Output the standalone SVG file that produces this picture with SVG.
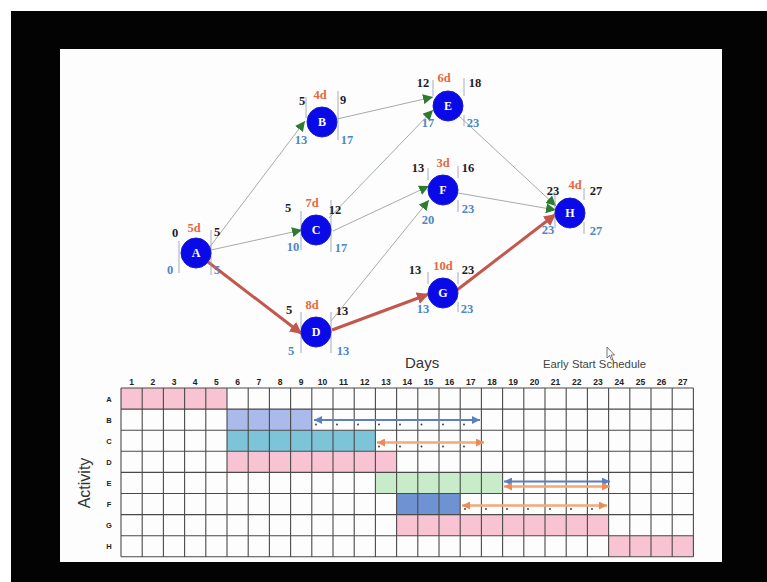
<svg xmlns="http://www.w3.org/2000/svg" width="767" height="582" viewBox="0 0 767 582">
<defs>
<style>
.num{font-family:"Liberation Serif","DejaVu Serif",serif;font-weight:bold;font-size:12.5px;text-anchor:middle}
.es{fill:#1c1c2c}
.du{fill:#e8673e}
.ls{fill:#4d86c6}
.nodec{fill:#0a0ae8;stroke:#1a1ad0;stroke-width:1}
.nl{font-family:"Liberation Serif","DejaVu Serif",serif;font-weight:bold;font-size:12px;fill:#ffffff;text-anchor:middle}
.tick{stroke:#8a9ab0;stroke-width:0.8}
.thin{fill:none;stroke:#98a498;stroke-width:0.9;marker-end:url(#ga)}
.crit{fill:none;stroke:#c4574c;stroke-width:3;marker-end:url(#ra)}
.hdr{font-family:"Liberation Sans","DejaVu Sans",sans-serif;font-weight:bold;font-size:8.5px;fill:#222;text-anchor:middle}
.rl{font-family:"Liberation Sans","DejaVu Sans",sans-serif;font-weight:bold;font-size:7.5px;fill:#222;text-anchor:middle}
.pink{fill:#f8c3d3}
.grid{fill:none;stroke:#4a4a4a;stroke-width:1.1}
.barB{stroke:#5b80c2;stroke-width:2.2;fill:none;marker-start:url(#bs);marker-end:url(#be)}
.barO{stroke:#f2a878;stroke-width:2.4;fill:none;marker-start:url(#os);marker-end:url(#oe)}
.dot{fill:#333}
</style>
<marker id="ga" markerUnits="userSpaceOnUse" markerWidth="10" markerHeight="10" viewBox="0 0 10 10" refX="10" refY="5" orient="auto"><path d="M0,0 L10,5 L0,10 Z" fill="#2e7a30"/></marker>
<marker id="ra" markerUnits="userSpaceOnUse" markerWidth="12" markerHeight="12" viewBox="0 0 10 10" refX="10" refY="5" orient="auto"><path d="M0,0 L10,5 L0,10 Z" fill="#c4574c"/></marker>
<marker id="be" markerUnits="userSpaceOnUse" markerWidth="8" markerHeight="8" viewBox="0 0 10 10" refX="10" refY="5" orient="auto"><path d="M0,0 L10,5 L0,10 Z" fill="#5b80c2"/></marker>
<marker id="bs" markerUnits="userSpaceOnUse" markerWidth="8" markerHeight="8" viewBox="0 0 10 10" refX="0" refY="5" orient="auto"><path d="M10,0 L0,5 L10,10 Z" fill="#5b80c2"/></marker>
<marker id="oe" markerUnits="userSpaceOnUse" markerWidth="8" markerHeight="8" viewBox="0 0 10 10" refX="10" refY="5" orient="auto"><path d="M0,0 L10,5 L0,10 Z" fill="#ec8a58"/></marker>
<marker id="os" markerUnits="userSpaceOnUse" markerWidth="8" markerHeight="8" viewBox="0 0 10 10" refX="0" refY="5" orient="auto"><path d="M10,0 L0,5 L10,10 Z" fill="#ec8a58"/></marker>
</defs>

<rect x="0" y="0" width="767" height="582" fill="#ffffff"/>
<rect x="11" y="11" width="756" height="571" fill="#030303"/>
<rect x="60" y="49" width="662" height="513" fill="#fdfdfd"/>

<g id="connectors">
<path class="thin" d="M209,248 L305,121"/>
<path class="thin" d="M211,250 L302,230"/>
<path class="thin" d="M337,119 L433,97"/>
<path class="thin" d="M329,218 L433,110"/>
<path class="thin" d="M333,231 L429,186"/>
<path class="thin" d="M331,321 L429,200"/>
<path class="thin" d="M459,116 L556,206"/>
<path class="thin" d="M458,193 L556,210"/>
<path class="crit" d="M208,262 L302,334"/>
<path class="crit" d="M332,330 L429,294"/>
<path class="crit" d="M457,290 L556,214"/>
</g>

<g id="node-A">
<line class="tick" x1="179" y1="241" x2="179" y2="273"/>
<line class="tick" x1="211" y1="230" x2="211" y2="275"/>
<circle class="nodec" cx="196" cy="253" r="15"/>
<text class="nl" x="196" y="257">A</text>
<text class="num es" x="175" y="237">0</text>
<text class="num du" x="194" y="232">5d</text>
<text class="num es" x="217" y="236">5</text>
<text class="num ls" x="170" y="274">0</text>
<text class="num ls" x="217" y="274">5</text>
</g>

<g id="node-B">
<line class="tick" x1="306" y1="97" x2="306" y2="118"/>
<line class="tick" x1="338" y1="91" x2="338" y2="140"/>
<circle class="nodec" cx="322" cy="122" r="15"/>
<text class="nl" x="322" y="126">B</text>
<text class="num es" x="302" y="105">5</text>
<text class="num du" x="320" y="99">4d</text>
<text class="num es" x="343" y="104">9</text>
<text class="num ls" x="301" y="144">13</text>
<text class="num ls" x="347" y="144">17</text>
</g>

<g id="node-C">
<line class="tick" x1="301" y1="211" x2="301" y2="250"/>
<line class="tick" x1="331" y1="200" x2="331" y2="252"/>
<circle class="nodec" cx="316" cy="230" r="15"/>
<text class="nl" x="316" y="234">C</text>
<text class="num es" x="288" y="212">5</text>
<text class="num du" x="312" y="207">7d</text>
<text class="num es" x="335" y="214">12</text>
<text class="num ls" x="293" y="251">10</text>
<text class="num ls" x="341" y="252">17</text>
</g>

<g id="node-D">
<line class="tick" x1="301" y1="312" x2="301" y2="353"/>
<line class="tick" x1="331" y1="312" x2="331" y2="353"/>
<circle class="nodec" cx="316" cy="332" r="15"/>
<text class="nl" x="316" y="336">D</text>
<text class="num es" x="289" y="314">5</text>
<text class="num du" x="312" y="309">8d</text>
<text class="num es" x="342" y="315">13</text>
<text class="num ls" x="291" y="355">5</text>
<text class="num ls" x="343" y="355">13</text>
</g>

<g id="node-E">
<line class="tick" x1="433" y1="80" x2="433" y2="96"/>
<line class="tick" x1="464" y1="78" x2="464" y2="96"/>
<line class="tick" x1="464" y1="115" x2="464" y2="126"/>
<circle class="nodec" cx="448" cy="106" r="15"/>
<text class="nl" x="448" y="110">E</text>
<text class="num es" x="423" y="87">12</text>
<text class="num du" x="444" y="82">6d</text>
<text class="num es" x="475" y="87">18</text>
<text class="num ls" x="428" y="127">17</text>
<text class="num ls" x="473" y="127">23</text>
</g>

<g id="node-F">
<line class="tick" x1="428" y1="168" x2="428" y2="180"/>
<line class="tick" x1="458" y1="166" x2="458" y2="178"/>
<line class="tick" x1="458" y1="200" x2="458" y2="212"/>
<circle class="nodec" cx="443" cy="190" r="15"/>
<text class="nl" x="443" y="194">F</text>
<text class="num es" x="418" y="172">13</text>
<text class="num du" x="443" y="167">3d</text>
<text class="num es" x="468" y="172">16</text>
<text class="num ls" x="428" y="224">20</text>
<text class="num ls" x="468" y="213">23</text>
</g>

<g id="node-G">
<line class="tick" x1="428" y1="272" x2="428" y2="284"/>
<line class="tick" x1="458" y1="272" x2="458" y2="284"/>
<line class="tick" x1="458" y1="302" x2="458" y2="312"/>
<circle class="nodec" cx="443" cy="293" r="15"/>
<text class="nl" x="443" y="297">G</text>
<text class="num es" x="415" y="274">13</text>
<text class="num du" x="443" y="270">10d</text>
<text class="num es" x="468" y="274">23</text>
<text class="num ls" x="423" y="313">13</text>
<text class="num ls" x="467" y="313">23</text>
</g>

<g id="node-H">
<line class="tick" x1="555" y1="192" x2="555" y2="228"/>
<line class="tick" x1="584" y1="188" x2="584" y2="200"/>
<line class="tick" x1="584" y1="222" x2="584" y2="234"/>
<circle class="nodec" cx="570" cy="213" r="15"/>
<text class="nl" x="570" y="217">H</text>
<text class="num es" x="553" y="195">23</text>
<text class="num du" x="575" y="189">4d</text>
<text class="num es" x="596" y="195">27</text>
<text class="num ls" x="548" y="234">23</text>
<text class="num ls" x="596" y="235">27</text>
</g>

<g id="gantt">
<rect class="pink" x="121" y="388" width="105.9" height="21.1"/>
<rect x="227" y="409.1" width="84.8" height="21.1" fill="#aabaea"/>
<rect x="227" y="430.2" width="148.4" height="21.1" fill="#7ec4d8"/>
<rect class="pink" x="227" y="451.3" width="169.6" height="21.1"/>
<rect x="375.4" y="472.4" width="127.2" height="21.1" fill="#c8ecc9"/>
<rect x="396.6" y="493.5" width="63.6" height="21.1" fill="#6f92d3"/>
<rect class="pink" x="396.6" y="514.6" width="212" height="21.1"/>
<rect class="pink" x="608.6" y="535.7" width="84.8" height="21.1"/>
<path class="grid" d="M121,388 H693.4 M121,409.1 H693.4 M121,430.2 H693.4 M121,451.3 H693.4 M121,472.4 H693.4 M121,493.5 H693.4 M121,514.6 H693.4 M121,535.7 H693.4 M121,556.8 H693.4
M121,388 V556.8 M142.2,388 V556.8 M163.4,388 V556.8 M184.6,388 V556.8 M205.8,388 V556.8 M227,388 V556.8 M248.2,388 V556.8 M269.4,388 V556.8 M290.6,388 V556.8 M311.8,388 V556.8 M333,388 V556.8 M354.2,388 V556.8 M375.4,388 V556.8 M396.6,388 V556.8 M417.8,388 V556.8 M439,388 V556.8 M460.2,388 V556.8 M481.4,388 V556.8 M502.6,388 V556.8 M523.8,388 V556.8 M545,388 V556.8 M566.2,388 V556.8 M587.4,388 V556.8 M608.6,388 V556.8 M629.8,388 V556.8 M651,388 V556.8 M672.2,388 V556.8 M693.4,388 V556.8"/>
<g>
<text class="hdr" x="131.6" y="385">1</text><text class="hdr" x="152.8" y="385">2</text><text class="hdr" x="174" y="385">3</text><text class="hdr" x="195.2" y="385">4</text><text class="hdr" x="216.4" y="385">5</text><text class="hdr" x="237.6" y="385">6</text><text class="hdr" x="258.8" y="385">7</text><text class="hdr" x="280" y="385">8</text><text class="hdr" x="301.2" y="385">9</text><text class="hdr" x="322.4" y="385">10</text><text class="hdr" x="343.6" y="385">11</text><text class="hdr" x="364.8" y="385">12</text><text class="hdr" x="386" y="385">13</text><text class="hdr" x="407.2" y="385">14</text><text class="hdr" x="428.4" y="385">15</text><text class="hdr" x="449.6" y="385">16</text><text class="hdr" x="470.8" y="385">17</text><text class="hdr" x="492" y="385">18</text><text class="hdr" x="513.2" y="385">19</text><text class="hdr" x="534.4" y="385">20</text><text class="hdr" x="555.6" y="385">21</text><text class="hdr" x="576.8" y="385">22</text><text class="hdr" x="598" y="385">23</text><text class="hdr" x="619.2" y="385">24</text><text class="hdr" x="640.4" y="385">25</text><text class="hdr" x="661.6" y="385">26</text><text class="hdr" x="682.8" y="385">27</text>
</g>
<g>
<text class="rl" x="109" y="401.5">A</text><text class="rl" x="109" y="422.6">B</text><text class="rl" x="109" y="443.7">C</text><text class="rl" x="109" y="464.8">D</text><text class="rl" x="109" y="485.9">E</text><text class="rl" x="109" y="507">F</text><text class="rl" x="109" y="528.1">G</text><text class="rl" x="109" y="549.2">H</text>
</g>
<path class="barB" d="M314,420 H480"/>
<path class="barO" d="M377,442.5 H484"/>
<path class="barB" d="M504,481.5 H610"/>
<path class="barO" d="M504,486.5 H610"/>
<path class="barO" d="M462,505.5 H607"/>
<g>
<circle class="dot" cx="316" cy="424.5" r="0.9"/><circle class="dot" cx="337" cy="424.5" r="0.9"/><circle class="dot" cx="358" cy="424.5" r="0.9"/><circle class="dot" cx="379" cy="424.5" r="0.9"/><circle class="dot" cx="400" cy="424.5" r="0.9"/><circle class="dot" cx="421.5" cy="424.5" r="0.9"/><circle class="dot" cx="443" cy="424.5" r="0.9"/><circle class="dot" cx="464" cy="424.5" r="0.9"/>
<circle class="dot" cx="379" cy="446.5" r="0.9"/><circle class="dot" cx="400" cy="446.5" r="0.9"/><circle class="dot" cx="421.5" cy="446.5" r="0.9"/><circle class="dot" cx="443" cy="446.5" r="0.9"/><circle class="dot" cx="464" cy="446.5" r="0.9"/>
<circle class="dot" cx="465" cy="509" r="0.9"/><circle class="dot" cx="486" cy="509" r="0.9"/><circle class="dot" cx="507" cy="509" r="0.9"/><circle class="dot" cx="528" cy="509" r="0.9"/><circle class="dot" cx="550" cy="509" r="0.9"/><circle class="dot" cx="571" cy="509" r="0.9"/><circle class="dot" cx="592" cy="509" r="0.9"/>
</g>
<text x="405" y="368" font-family="Liberation Sans, DejaVu Sans, sans-serif" font-size="15" fill="#333">Days</text>
<text x="543" y="368" font-family="Liberation Sans, DejaVu Sans, sans-serif" font-size="11.3" fill="#444">Early Start Schedule</text>
<text x="0" y="0" transform="translate(90,483) rotate(-90)" text-anchor="middle" font-family="Liberation Sans, DejaVu Sans, sans-serif" font-size="16" fill="#333">Activity</text>
</g>
<path d="M607,347 L607,358 L609.5,355.5 L611.5,360 L613,359.3 L611,355 L614.5,355 Z" fill="#fff" stroke="#555" stroke-width="0.8"/>
</svg>
